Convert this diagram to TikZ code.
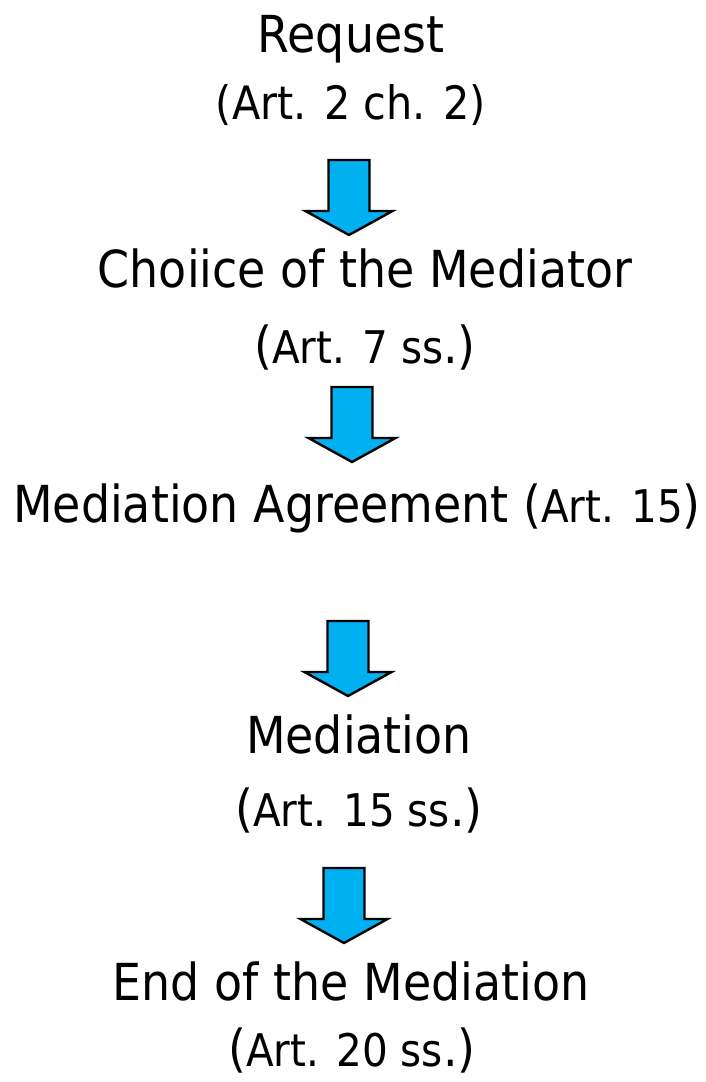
\documentclass[tikz,border=0pt]{standalone}
\usepackage{fontspec}
\setmainfont[FakeStretch=0.9]{DejaVu Sans}
\definecolor{arrowblue}{HTML}{00B0F0}
\newcommand{\fbg}{\fontsize{51}{60}\selectfont}
\newcommand{\fmd}{\fontsize{46}{56}\selectfont}
\newcommand{\fsm}{\fontsize{45}{54}\selectfont}
\tikzset{
  lbl/.style={anchor=base, inner sep=0pt, outer sep=0pt, text=black},
  arrowfill/.style={fill=arrowblue, draw=black, line width=2.4pt, line join=miter},
  blockarrow/.pic={\draw[arrowfill] (-20.5,0) -- (20.5,0) -- (20.5,51) -- (43.5,51) -- (0,75) -- (-43.5,51) -- (-20.5,51) -- cycle;}
}
\begin{document}
\begin{tikzpicture}[x=1pt,y=-1pt]
\useasboundingbox[fill=white] (0,0) rectangle (705,1082);
\node[lbl] (req) at (351,52) {\fbg Request};
\node[lbl] (reqart) at (351,119) {\fmd (Art. 2 ch. 2)};
\pic at (349,160) {blockarrow};
\node[lbl] (choice) at (365,287) {\fbg Choiice of the Mediator};
\node[lbl] (choiceart) at (365,363) {\fbg(\fsm Art. 7 ss\fbg.)};
\pic at (352,387) {blockarrow};
\node[lbl] (agree) at (357,522) {\fbg Mediation Agreement (\fsm Art. 15\fbg)};
\pic at (348,621) {blockarrow};
\node[lbl] (med) at (359,753) {\fbg Mediation};
\node[lbl] (medart) at (359,826) {\fbg(\fsm Art. 15 ss\fbg.)};
\pic at (344,868) {blockarrow};
\node[lbl] (end) at (351,1000) {\fbg End of the Mediation};
\node[lbl] (endart) at (352,1066) {\fbg(\fsm Art. 20 ss\fbg.)};
\end{tikzpicture}
\end{document}
